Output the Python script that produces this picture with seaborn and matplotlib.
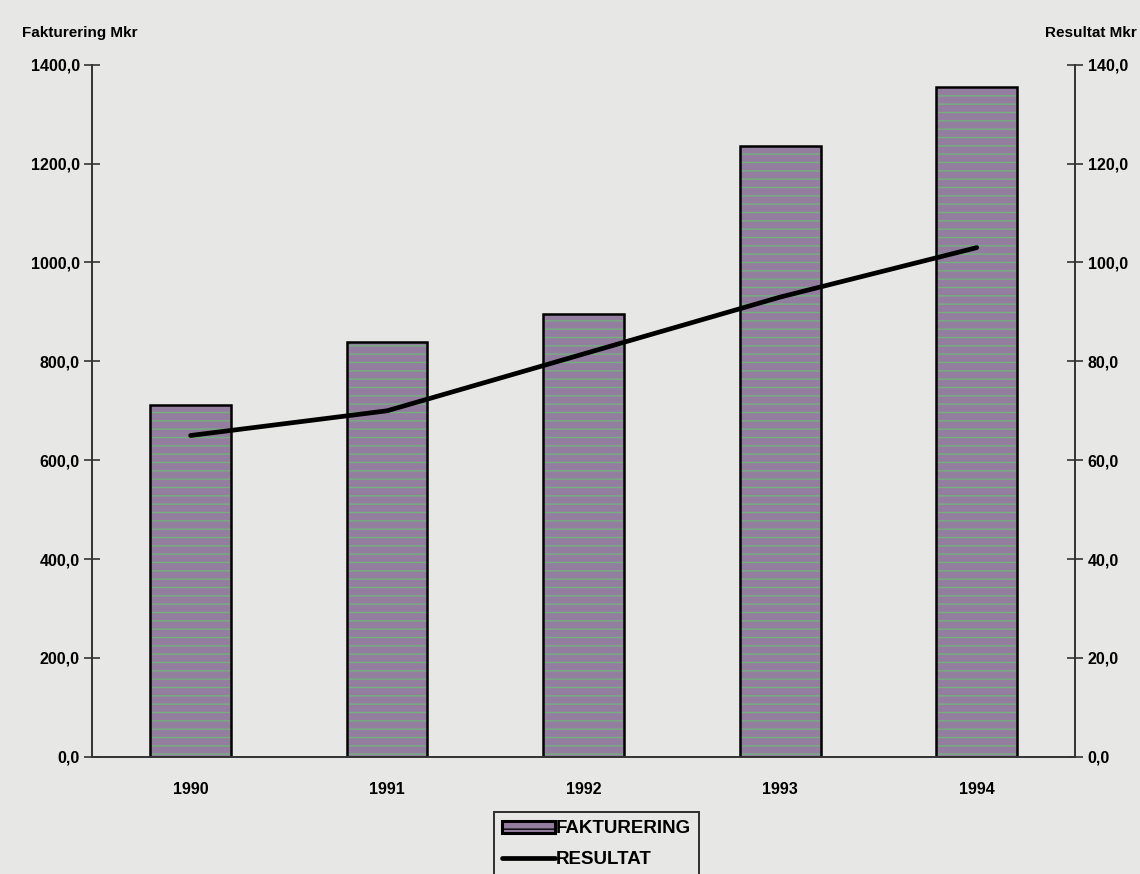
import numpy as np
import pandas as pd
import matplotlib
matplotlib.use('Agg')
import matplotlib.pyplot as plt
from matplotlib.patches import Patch
from matplotlib.lines import Line2D
from matplotlib.ticker import FuncFormatter
import seaborn as sns

years = ['1990', '1991', '1992', '1993', '1994']
fakturering = [712, 840, 895, 1235, 1355]   # Mkr, left axis
resultat = [65, 70, 81.5, 93, 103]          # Mkr, right axis

sns.set_style('white')
plt.rcParams['font.family'] = ['Liberation Sans', 'DejaVu Sans']
plt.rcParams['font.weight'] = 'bold'
plt.rcParams['text.color'] = 'black'

paper = '#e7e7e6'
bar_base = '#947ea0'
stripe = '#74b07e'
fig = plt.figure(figsize=(11.4, 8.74), dpi=100, facecolor=paper)
ax = fig.add_axes([0.081, 0.134, 0.862, 0.792])
ax.set_facecolor(paper)

df = pd.DataFrame({'year': years, 'fakt': fakturering})

# mottled bar fill: mauve base with greenish stripes, then black outline
sns.barplot(data=df, x='year', y='fakt', ax=ax, color=bar_base, width=0.41,
            saturation=1)
for p in ax.patches:
    p.set_hatch('--')
    p.set_edgecolor(stripe)
    p.set_linewidth(0)
sns.barplot(data=df, x='year', y='fakt', ax=ax, fill=False, color='black',
            width=0.41, linewidth=1.8)

fmt = FuncFormatter(lambda v, _: f'{v:.1f}'.replace('.', ','))
ax.set_xlim(-0.5, 4.5)
ax.set_ylim(0, 1400)
ax.set_yticks(np.arange(0, 1401, 200))
ax.yaxis.set_major_formatter(fmt)
ax.set_xticks(np.arange(-0.5, 4.6, 1.0))
ax.set_xticklabels([])
ax.tick_params(axis='x', which='major', direction='inout', length=12, width=1.2, color='#333333')
ax.set_xticks(np.arange(5), minor=True)
ax.set_xticklabels(years, minor=True)
ax.tick_params(axis='x', which='minor', length=0, pad=18, labelsize=11.5, labelcolor='black')
ax.tick_params(axis='y', direction='inout', length=12, width=1.2, color='#333333',
               labelsize=11.5, pad=3, labelcolor='black')
ax.set_xlabel('')
ax.set_ylabel('')
for s in ['top', 'right']:
    ax.spines[s].set_visible(False)
for s in ['left', 'bottom']:
    ax.spines[s].set_color('#333333')
    ax.spines[s].set_linewidth(1.4)

ax2 = ax.twinx()
sns.lineplot(x=np.arange(len(years)), y=resultat, ax=ax2, color='black',
             linewidth=3.4, sort=False)
ax2.set_ylim(0, 140)
ax2.set_yticks(np.arange(0, 141, 20))
ax2.yaxis.set_major_formatter(fmt)
ax2.tick_params(axis='y', direction='inout', length=12, width=1.2, color='#333333',
                labelsize=11.5, pad=3, labelcolor='black')
for s in ['top', 'left', 'bottom']:
    ax2.spines[s].set_visible(False)
ax2.spines['right'].set_color('#333333')
ax2.spines['right'].set_linewidth(1.4)
ax2.set_ylabel('')

fig.text(0.019, 0.962, 'Fakturering Mkr', fontsize=11, weight='bold', ha='left',
         va='center', color='black')
fig.text(0.997, 0.962, 'Resultat Mkr', fontsize=11, weight='bold', ha='right',
         va='center', color='black')

handles = [Patch(facecolor=bar_base, edgecolor='black', linewidth=2.2, hatch='--'),
           Line2D([0], [0], color='black', linewidth=3.4)]
leg = fig.legend(handles, ['FAKTURERING', 'RESULTAT'], loc='upper left',
                 bbox_to_anchor=(0.433, 0.071), frameon=True, fancybox=False,
                 edgecolor='black', facecolor=paper, fontsize=13.5,
                 labelcolor='black', handlelength=2.8, handleheight=0.6,
                 handletextpad=0.05, borderpad=0.45, labelspacing=0.75,
                 borderaxespad=0)
leg.get_frame().set_linewidth(1.4)

fig.savefig('out.png', dpi=100, facecolor=paper)
